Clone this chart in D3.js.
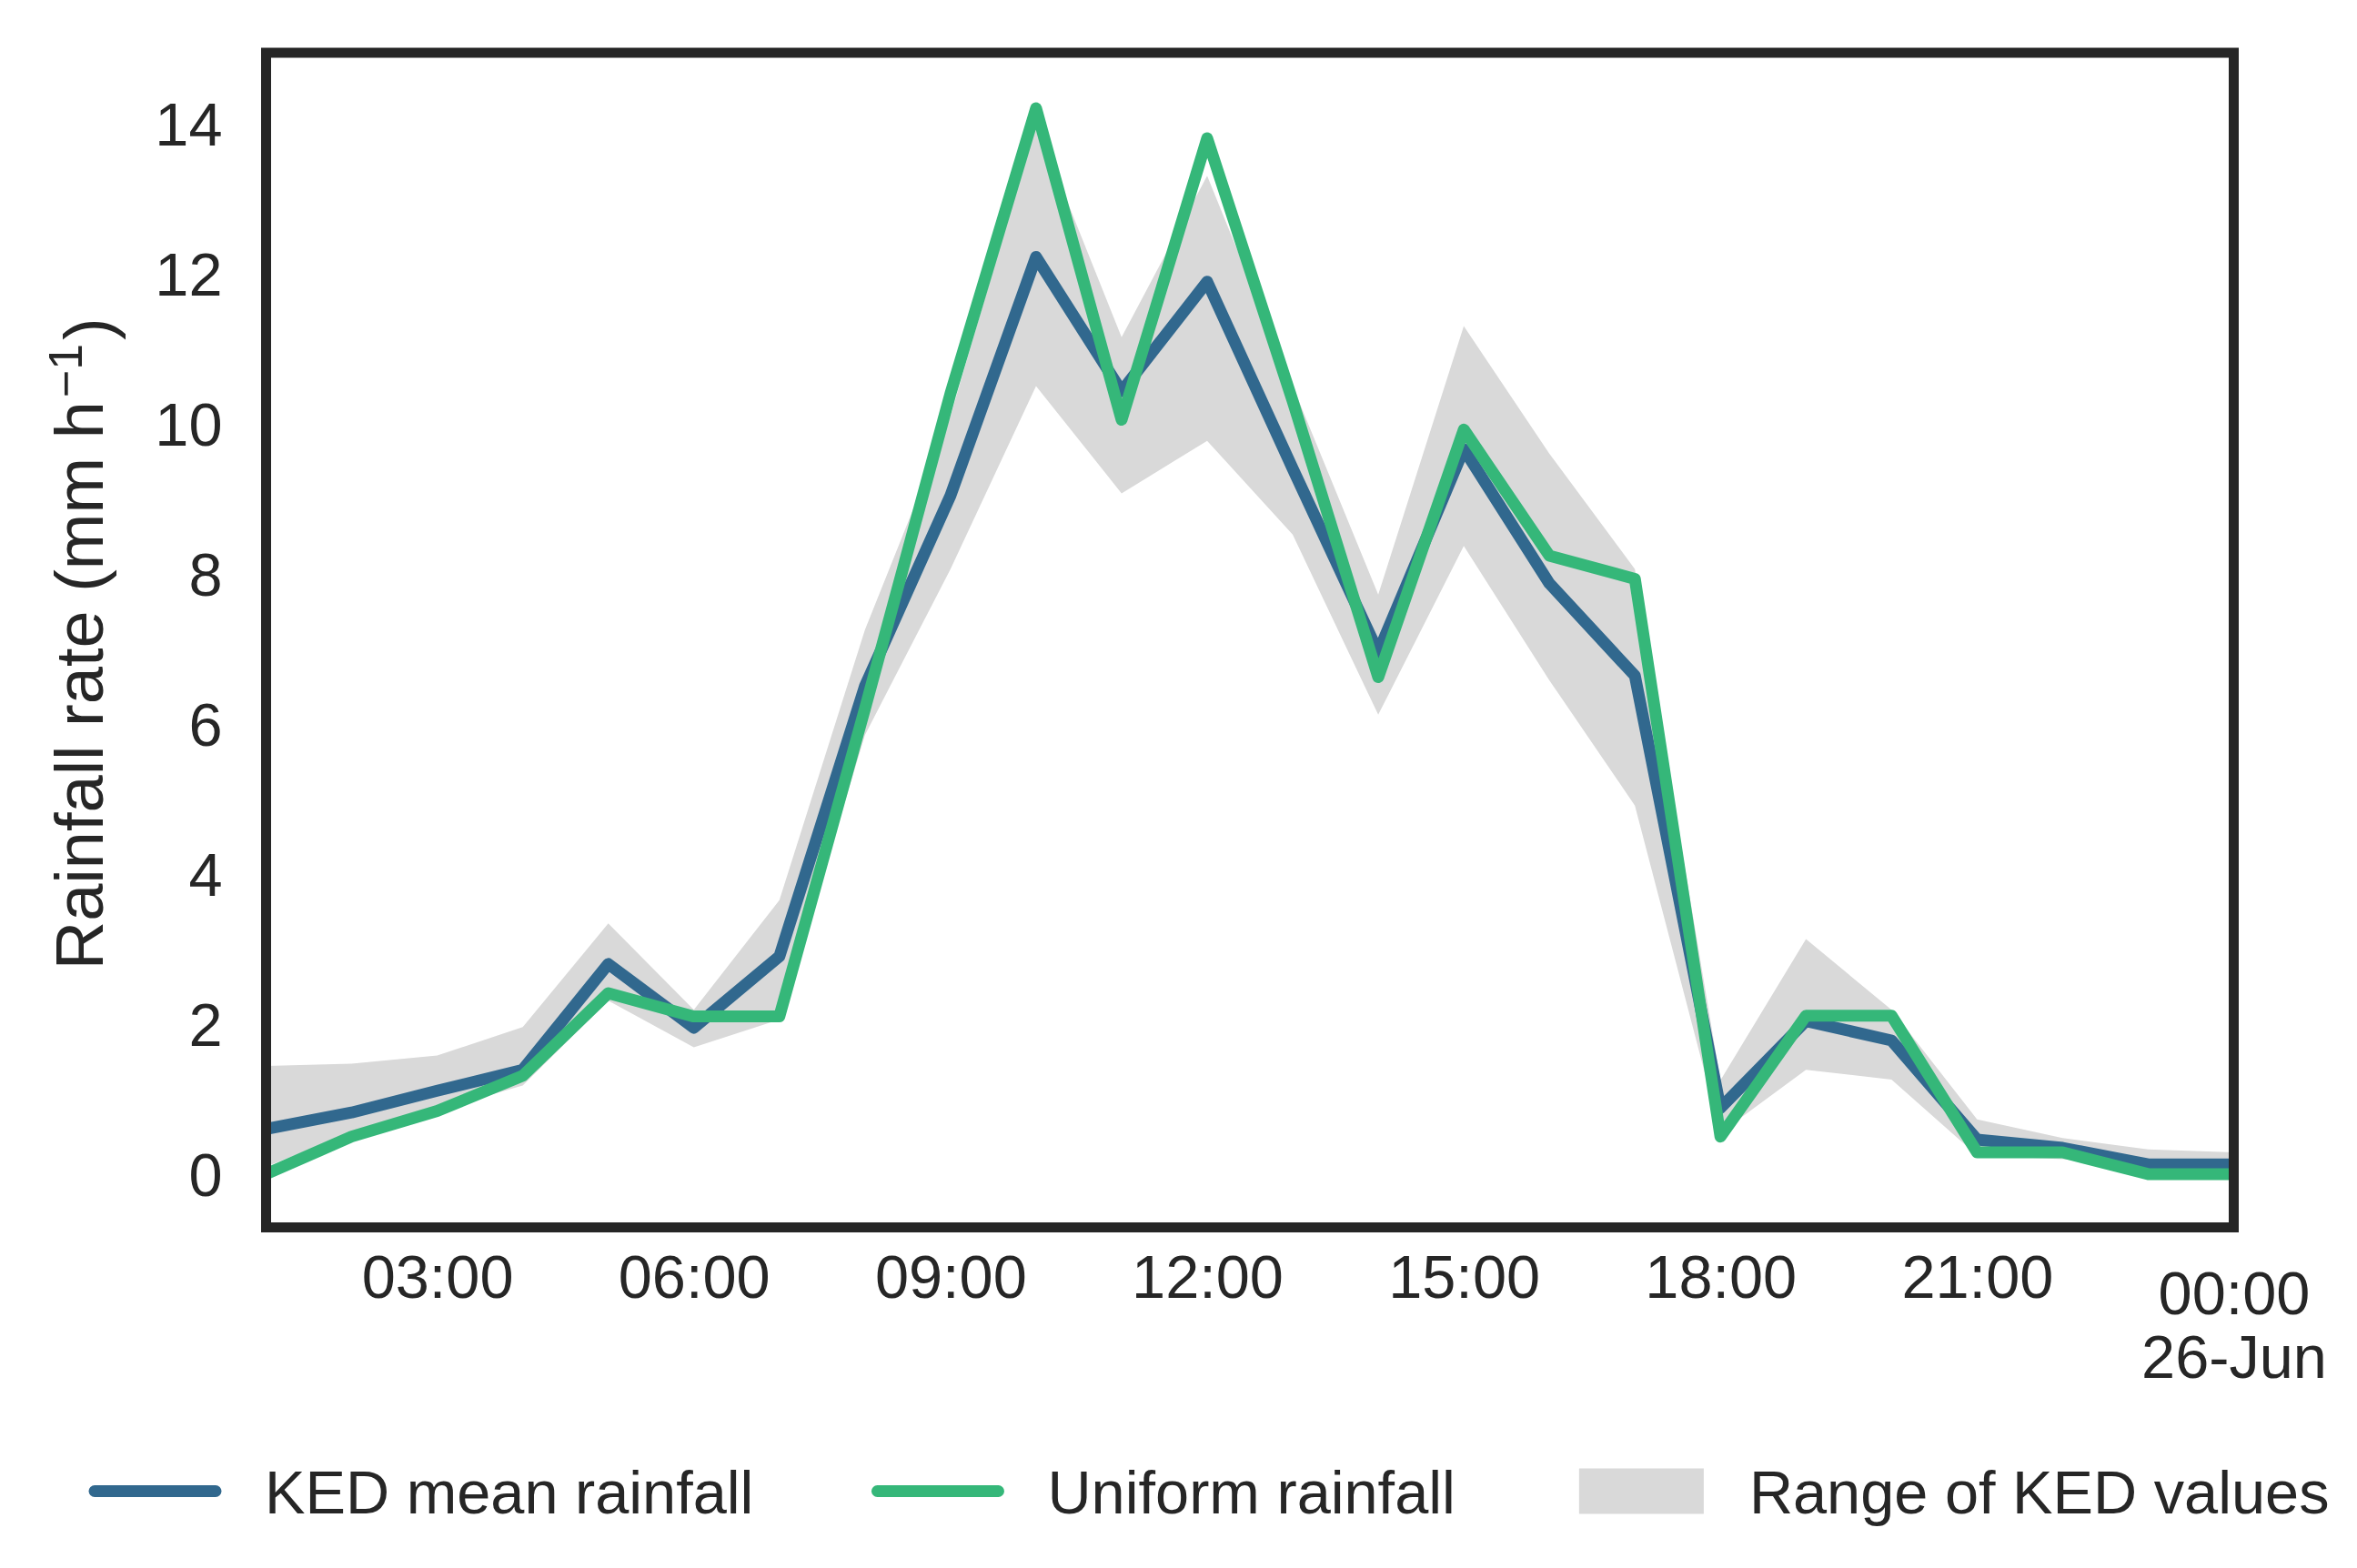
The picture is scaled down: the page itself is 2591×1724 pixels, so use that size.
<!DOCTYPE html>
<meta charset="utf-8">
<script src="https://d3js.org/d3.v7.min.js"></script>
<style>
  body { margin: 0; background: #ffffff; }
  text { font-family: "Liberation Sans", Arial, sans-serif; fill: #262626; }
</style>
<div id="my_dataviz"></div>
<script>
  // hourly values, 25 Jun 01:00 -> 26 Jun 00:00
  var times = ["2016-06-25T01:00Z", "2016-06-25T02:00Z", "2016-06-25T03:00Z", "2016-06-25T04:00Z",
    "2016-06-25T05:00Z", "2016-06-25T06:00Z", "2016-06-25T07:00Z", "2016-06-25T08:00Z",
    "2016-06-25T09:00Z", "2016-06-25T10:00Z", "2016-06-25T11:00Z", "2016-06-25T12:00Z",
    "2016-06-25T13:00Z", "2016-06-25T14:00Z", "2016-06-25T15:00Z", "2016-06-25T16:00Z",
    "2016-06-25T17:00Z", "2016-06-25T18:00Z", "2016-06-25T19:00Z", "2016-06-25T20:00Z",
    "2016-06-25T21:00Z", "2016-06-25T22:00Z", "2016-06-25T23:00Z", "2016-06-26T00:00Z"];

  var kedMean = [0.60, 0.82, 1.11, 1.39, 2.80, 1.95, 2.90, 6.50, 9.04, 12.22, 10.43, 11.89,
    9.40, 6.95, 9.66, 7.87, 6.64, 0.88, 2.04, 1.78, 0.46, 0.35, 0.13, 0.13];
  var uniform = [0.00, 0.50, 0.84, 1.31, 2.41, 2.10, 2.10, 6.20, 10.40, 14.20, 10.05, 13.80,
    10.30, 6.62, 9.92, 8.24, 7.93, 0.50, 2.11, 2.11, 0.29, 0.29, 0.00, 0.00];
  var kedMax = [1.44, 1.47, 1.58, 1.96, 3.34, 2.19, 3.65, 7.25, 10.10, 14.00, 11.15, 13.30,
    10.50, 7.72, 11.30, 9.60, 8.06, 1.25, 3.13, 2.19, 0.73, 0.48, 0.33, 0.29];
  var kedMin = [0.10, 0.55, 0.85, 1.18, 2.31, 1.69, 2.06, 5.85, 8.06, 10.50, 9.07, 9.77,
    8.52, 6.12, 8.37, 6.58, 4.91, 0.55, 1.39, 1.26, 0.25, 0.20, 0.10, 0.10];

  var yTicks = [0, 2, 4, 6, 8, 10, 12, 14];
  var legendLabels = ["KED mean rainfall", "Uniform rainfall", "Range of KED values"];

  var colors = { ked: "#31688e", uniform: "#35b779", range: "#d9d9d9", ink: "#262626" };

  var W = 2591, H = 1724;
  var margin = { top: 58, right: 135.5, bottom: 374.5, left: 292.5 },
    width = W - margin.left - margin.right,
    height = H - margin.top - margin.bottom;
  var fs = 66.7, lw = 13;

  var svg = d3.select("#my_dataviz")
    .append("svg")
    .attr("width", W)
    .attr("height", H)
    .style("background", "#ffffff");

  var g = svg.append("g")
    .attr("transform", "translate(" + margin.left + "," + margin.top + ")");

  var data = times.map(function (t, i) {
    return { t: new Date(t), ked: kedMean[i], uni: uniform[i], lo: kedMin[i], hi: kedMax[i] };
  });

  var x = d3.scaleUtc()
    .domain(d3.extent(data, function (d) { return d.t; }))
    .range([0, width]);

  var y = d3.scaleLinear()
    .domain([-0.71, 14.94])
    .range([height, 0]);

  g.append("clipPath").attr("id", "clip")
    .append("rect").attr("width", width).attr("height", height);

  var plot = g.append("g").attr("clip-path", "url(#clip)");

  // range of KED values
  plot.append("path")
    .datum(data)
    .attr("fill", colors.range)
    .attr("d", d3.area()
      .x(function (d) { return x(d.t); })
      .y0(function (d) { return y(d.lo); })
      .y1(function (d) { return y(d.hi); }));

  var line = function (key) {
    return d3.line()
      .x(function (d) { return x(d.t); })
      .y(function (d) { return y(d[key]); });
  };

  plot.append("path")
    .datum(data)
    .attr("fill", "none")
    .attr("stroke", colors.ked)
    .attr("stroke-width", lw)
    .attr("stroke-linejoin", "round")
    .attr("stroke-linecap", "round")
    .attr("d", line("ked"));

  plot.append("path")
    .datum(data)
    .attr("fill", "none")
    .attr("stroke", colors.uniform)
    .attr("stroke-width", lw)
    .attr("stroke-linejoin", "round")
    .attr("stroke-linecap", "round")
    .attr("d", line("uni"));

  // y axis
  var yAxis = g.append("g")
    .call(d3.axisLeft(y).tickValues(yTicks).tickSize(0).tickPadding(48));
  yAxis.select(".domain").remove();
  yAxis.selectAll("text")
    .attr("dy", "0.36em")
    .style("font-size", fs + "px")
    .style("font-family", "Liberation Sans, Arial, sans-serif")
    .attr("fill", colors.ink);

  // x axis
  var xAxis = g.append("g")
    .attr("transform", "translate(0," + height + ")")
    .call(d3.axisBottom(x).ticks(d3.utcHour.every(3)).tickSize(0).tickFormat(""));
  xAxis.select(".domain").remove();
  xAxis.selectAll(".tick").each(function (d) {
    var tk = d3.select(this);
    var t = tk.append("text")
      .attr("text-anchor", "middle")
      .style("font-size", fs + "px")
      .attr("fill", colors.ink);
    if (d.getUTCHours() === 0) {
      t.append("tspan").attr("x", 0).attr("y", 95.5).text(d3.utcFormat("%H:%M")(d));
      t.append("tspan").attr("x", 0).attr("y", 165.5).text(d3.utcFormat("%d-%b")(d));
    } else {
      t.attr("y", 77.5).text(d3.utcFormat("%H:%M")(d));
    }
  });

  // y label
  var yl = g.append("text")
    .attr("transform", "translate(" + (113 - margin.left) + "," + (height / 2 + 4) + ")rotate(-90)")
    .attr("text-anchor", "middle")
    .style("font-size", "74px")
    .attr("fill", colors.ink);
  yl.append("tspan").text("Rainfall rate (mm h");
  yl.append("tspan").attr("dx", 4).attr("dy", "-0.45em").style("font-size", "52px").text("\u22121");
  yl.append("tspan").attr("dx", 4).attr("dy", "0.45em").text(")");

  // frame
  g.append("rect")
    .attr("width", width)
    .attr("height", height)
    .attr("fill", "none")
    .attr("stroke", colors.ink)
    .attr("stroke-width", 11);

  // legend
  var legend = svg.append("g").attr("transform", "translate(0,1639.5)");
  var handleLen = 133, textPad = 54, colSpace = 136;
  var lx = 104;
  legendLabels.forEach(function (lab, i) {
    if (i < 2) {
      legend.append("line")
        .attr("x1", lx).attr("x2", lx + handleLen)
        .attr("stroke", i === 0 ? colors.ked : colors.uniform)
        .attr("stroke-width", lw)
        .attr("stroke-linecap", "round");
    } else {
      legend.append("rect")
        .attr("x", lx).attr("y", -25)
        .attr("width", handleLen + 4).attr("height", 50)
        .attr("fill", colors.range);
    }
    var tx = legend.append("text")
      .attr("x", lx + handleLen + textPad)
      .attr("y", 24)
      .style("font-size", fs + "px")
      .attr("fill", colors.ink)
      .text(lab);
    lx = lx + handleLen + textPad + tx.node().getComputedTextLength() + colSpace;
  });
</script>
